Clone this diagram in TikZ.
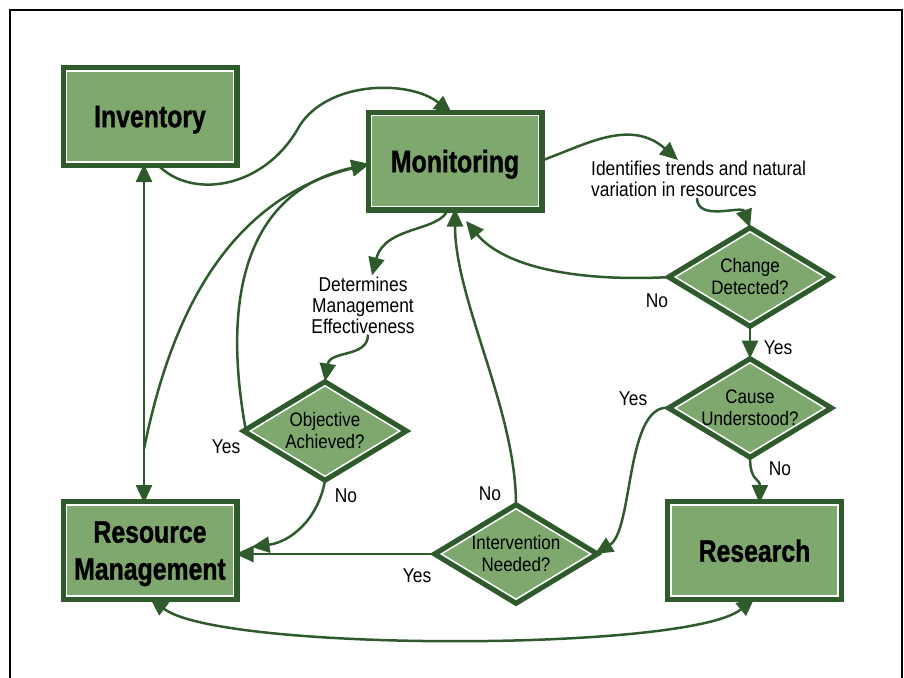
\documentclass[tikz,border=0pt]{standalone}
\usepackage{fontspec}
\setmainfont[FakeStretch=0.87]{Liberation Sans}
\newfontfamily\boxfont[FakeStretch=0.8, FakeBold=1]{Liberation Sans}
\usepackage{tikz}
\usetikzlibrary{positioning, arrows.meta, shapes.geometric, calc}
\definecolor{dkgreen}{RGB}{46,90,44}
\definecolor{boxgreen}{RGB}{126,168,110}
\tikzset{>={Triangle[length=18pt,width=16pt]}}
\tikzset{
    stage/.style={rectangle, draw=white, line width=1.5pt, fill=boxgreen,
        preaction={draw=dkgreen, line width=12pt},
        minimum width=167pt, minimum height=91pt, inner sep=0pt, outer sep=2pt,
        text depth=0pt, align=center, font=\boxfont\bfseries\fontsize{31}{37}\selectfont},
    query/.style={diamond, draw=white, line width=1.5pt, fill=boxgreen,
        preaction={draw=dkgreen, line width=12pt},
        minimum width=152pt, minimum height=93pt, inner sep=0pt, outer sep=3pt},
    qtext/.style={align=center, font=\fontsize{19.5}{22}\selectfont},
    note/.style={font=\fontsize{20}{21}\selectfont, inner sep=1pt},
    flow/.style={dkgreen, line width=2.5pt, ->},
}

\begin{document}
\begin{tikzpicture}[x=1pt, y=-1pt]
    \useasboundingbox (0,0) rectangle (904,677);
    \draw[line width=2.5pt] (10,690) -- (10,10) -- (902,10) -- (902,690);

    % boxes
    \node[stage] (inv) at (150,116.5) {Inventory};
    \node[stage] (mon) at (455,161) {Monitoring};
    \node[stage] (rm) at (150,550.5) {Resource\\Management};
    \node[stage] (res) at (754.5,550.5) {Research};

    % decisions
    \node[query, label={[name=cd-t, qtext]center:Change\\Detected?}] (cd) at (750,277) {};
    \node[query, label={[name=cu-t, qtext]center:Cause\\Understood?}] (cu) at (750,408) {};
    \node[query, label={[name=oa-t, qtext]center:Objective\\Achieved?}] (oa) at (325,431) {};
    \node[query, label={[name=in-t, qtext]center:Intervention\\Needed?}] (in) at (516,554) {};

    % notes
    \node[note, anchor=west, align=left] (trend) at (590,179) {Identifies trends and natural\\variation in resources};
    \node[note, align=center] (eff) at (363,305) {Determines\\Management\\Effectiveness};

    \node[note] (cd-no) at (657,301) {No};
    \node[note] (cu-yes) at (778,348) {Yes};
    \node[note] (cu-yes2) at (633,399) {Yes};
    \node[note] (cu-no) at (780,469) {No};
    \node[note] (oa-yes) at (226,447) {Yes};
    \node[note] (oa-no) at (346,496) {No};
    \node[note] (in-no) at (490,494) {No};
    \node[note] (in-yes) at (417,576) {Yes};

    \coordinate (split) at (144,449);
    \coordinate (back) at (466,221);

    % connectors
    \draw[flow] ([xshift=7pt]inv.south) .. controls (190,200) and (265,190) .. (300,125) .. controls (330,80) and (410,80) .. ([xshift=-3pt]mon.north);
    \draw[flow, <->] ([xshift=-6pt]inv.south) -- ([xshift=-6pt]rm.north);
    \draw[flow] (split) .. controls (170,320) and (225,200) .. ([yshift=-3pt]mon.west);
    \draw[flow] (oa.west) .. controls (220,290) and (250,190) .. ([yshift=-3pt]mon.west);
    \draw[flow] ([xshift=-7pt]mon.south) .. controls (442,232) and (385,225) .. ([xshift=9pt]eff.north);
    \draw[flow] ([xshift=5pt]eff.south) .. controls (368,358) and (330,350) .. (oa.north);
    \draw[flow] (oa.south) .. controls (318,520) and (290,542) .. ([xshift=16pt,yshift=3.5pt]rm.east);
    \draw[flow] (in.west) -- (in.west -| rm.east);
    \draw[flow] (in.north) .. controls (516,410) and (455,300) .. (mon.south);
    \draw[flow] (cd.west) .. controls (580,282) and (505,268) .. (back);
    \draw[flow] (mon.east) .. controls (585,145) and (630,118) .. ([xshift=88pt]trend.north west);
    \draw[flow] ([xshift=107pt]trend.south west) .. controls (697,222) and (742,205) .. (cd.north);
    \draw[flow] (cd.south) -- (cu.north);
    \draw[flow] (cu.west) .. controls (625,400) and (634,530) .. (in.east);
    \draw[flow] (cu.south) .. controls (750,482) and (760,478) .. ([xshift=5pt]res.north);
    \draw[flow, <->] (rm.south) .. controls (220,652) and (690,652) .. (res.south);
\end{tikzpicture}
\end{document}
